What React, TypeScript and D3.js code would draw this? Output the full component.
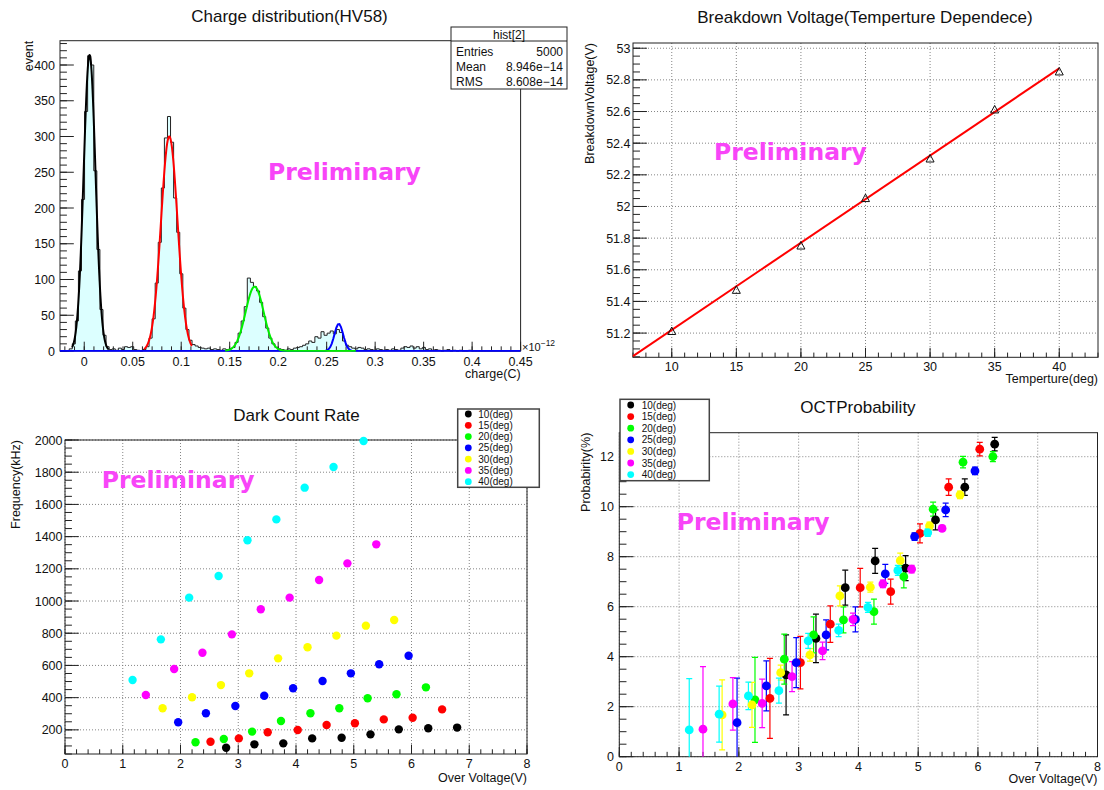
import React from 'react';
import * as d3 from 'd3';

// ================= DATA =================
// --- Charge distribution histogram (150 bins, -0.025 .. 0.45 ×1e-12 C)
const histXMin = -0.025;
const histXMax = 0.45;
const histCounts = [
  0, 0, 0, 3, 10, 42, 112, 212, 335, 413,
  400, 252, 142, 58, 22, 6, 2, 3, 1, 4,
  2, 6, 5, 6, 2, 1, 0, 2, 6, 18,
  45, 95, 152, 228, 298, 328, 292, 214, 166, 108,
  60, 30, 15, 9, 7, 5, 4, 3, 4, 2,
  3, 2, 1, 3, 2, 3, 5, 12, 25, 42,
  62, 102, 96, 90, 84, 68, 48, 32, 18, 10,
  5, 3, 2, 1, 3, 2, 4, 5, 6, 8,
  10, 14, 12, 20, 18, 27, 22, 25, 28, 24,
  30, 26, 14, 8, 6, 4, 3, 5, 4, 2,
  3, 2, 1, 3, 2, 1, 2, 1, 3, 2,
  1, 4, 6, 5, 7, 4, 6, 3, 5, 2,
  3, 1, 2, 1, 0, 1, 2, 0, 1, 0,
  1, 0, 0, 1, 0, 0, 0, 0, 0, 0,
  0, 0, 0, 0, 0, 0, 0, 0, 0, 0,
];
// Gaussian fit results (drawn order: blue, black, red, green)
const fitAmp = [38, 414, 300, 90];
const fitMean = [0.2625, 0.0055, 0.0877, 0.1757];
const fitSigma = [0.0045, 0.0061, 0.0085, 0.0093];
const fitLo = [-0.025, -0.0126, 0.0616, 0.1453];
const fitHi = [0.45, 0.0253, 0.111, 0.28];
const fitColors = ['#0000ff', '#000000', '#ff0000', '#00ee00'];
const statsLabels = ['Entries', 'Mean', 'RMS'];
const statsValues = ['5000', '8.946e\u221214', '8.608e\u221214'];
const tlXTicks = [0, 0.05, 0.1, 0.15, 0.2, 0.25, 0.3, 0.35, 0.4, 0.45];
const tlYTicks = [0, 50, 100, 150, 200, 250, 300, 350, 400];

// --- Breakdown voltage vs temperature
const temps = [10, 15, 20, 25, 30, 35, 40];
const vbd = [51.21, 51.47, 51.75, 52.05, 52.3, 52.61, 52.85];
const vbdFitIntercept = 50.669;
const vbdFitSlope = 0.0551;
const vbdFitRange = [7, 40];
const trXTicks = [10, 15, 20, 25, 30, 35, 40];
const trYTicks = [51.2, 51.4, 51.6, 51.8, 52, 52.2, 52.4, 52.6, 52.8, 53];

// --- Series (temperatures)
const seriesLabels = ['10(deg)', '15(deg)', '20(deg)', '25(deg)', '30(deg)', '35(deg)', '40(deg)'];
const seriesColors = ['#000000', '#ff0000', '#00ff00', '#0000ff', '#ffff00', '#ff00ff', '#00ffff'];

// --- Dark count rate (Over voltage V, kHz)
const dcrX10 = [2.79, 3.28, 3.78, 4.28, 4.79, 5.29, 5.78, 6.29, 6.79];
const dcrY10 = [89, 110, 116, 147, 151, 172, 203, 210, 214];
const dcrX15 = [2.52, 3.01, 3.51, 4.03, 4.53, 5.02, 5.52, 6.02, 6.53];
const dcrY15 = [126, 147, 185, 199, 230, 241, 265, 275, 327];
const dcrX20 = [2.26, 2.75, 3.24, 3.74, 4.25, 4.75, 5.24, 5.74, 6.25];
const dcrY20 = [123, 143, 189, 255, 303, 334, 396, 421, 464];
const dcrX25 = [1.96, 2.44, 2.95, 3.45, 3.95, 4.46, 4.95, 5.44, 5.95];
const dcrY25 = [247, 303, 348, 412, 458, 503, 551, 607, 660];
const dcrX30 = [1.69, 2.2, 2.7, 3.19, 3.69, 4.2, 4.7, 5.21, 5.7];
const dcrY30 = [334, 402, 478, 551, 644, 713, 785, 847, 882];
const dcrX35 = [1.4, 1.89, 2.38, 2.89, 3.39, 3.89, 4.4, 4.89, 5.39];
const dcrY35 = [416, 578, 679, 793, 949, 1021, 1131, 1234, 1352];
const dcrX40 = [1.17, 1.66, 2.15, 2.66, 3.16, 3.66, 4.15, 4.65, 5.17];
const dcrY40 = [510, 762, 1021, 1155, 1377, 1507, 1704, 1832, 1994];
const blYTicks = [200, 400, 600, 800, 1000, 1200, 1400, 1600, 1800, 2000];
const ovTicks = [0, 1, 2, 3, 4, 5, 6, 7, 8];

// --- OCT probability (Over voltage V, %), with errors
const octX10 = [2.79, 3.29, 3.78, 4.28, 4.79, 5.29, 5.78, 6.28];
const octY10 = [3.27, 4.73, 6.76, 7.83, 7.54, 9.47, 10.78, 12.5];
const octE10 = [1.6, 0.97, 0.7, 0.5, 0.5, 0.4, 0.33, 0.27];
const octX15 = [2.52, 3.03, 3.53, 4.03, 4.54, 5.03, 5.51, 6.03];
const octY15 = [2.33, 3.76, 5.3, 6.76, 6.6, 8.93, 10.78, 12.3];
const octE15 = [1.6, 1.05, 0.73, 0.77, 0.5, 0.38, 0.33, 0.27];
const octX20 = [2.27, 2.76, 3.25, 3.75, 4.26, 4.76, 5.25, 5.75, 6.25];
const octY20 = [2.27, 3.9, 4.87, 5.47, 5.8, 7.2, 9.9, 11.78, 12.0];
const octE20 = [1.7, 1.0, 0.72, 0.52, 0.5, 0.45, 0.28, 0.23, 0.2];
const octX25 = [1.97, 2.46, 2.96, 3.46, 3.95, 4.45, 4.94, 5.46, 5.95];
const octY25 = [1.36, 2.83, 3.76, 4.87, 5.49, 7.31, 8.8, 9.87, 11.43];
const octE25 = [1.78, 1.0, 1.0, 0.6, 0.5, 0.38, 0.15, 0.27, 0.15];
const octX30 = [1.72, 2.22, 2.7, 3.19, 3.69, 4.2, 4.7, 5.19, 5.7];
const octY30 = [1.67, 2.07, 3.36, 4.07, 6.43, 6.78, 7.84, 9.23, 10.47];
const octE30 = [1.4, 0.9, 0.3, 0.25, 0.4, 0.2, 0.3, 0.15, 0.15];
const octX35 = [1.4, 1.9, 2.39, 2.89, 3.4, 3.91, 4.41, 4.89, 5.4];
const octY35 = [1.1, 2.11, 2.13, 3.2, 4.23, 5.49, 6.91, 7.5, 9.13];
const octE35 = [2.5, 1.05, 0.97, 0.6, 0.35, 0.25, 0.15, 0.15, 0.12];
const octX40 = [1.17, 1.67, 2.16, 2.67, 3.16, 3.67, 4.16, 4.66, 5.16];
const octY40 = [1.07, 1.7, 2.43, 2.64, 4.63, 5.05, 5.97, 7.45, 8.96];
const octE40 = [2.05, 1.12, 0.55, 0.5, 0.3, 0.25, 0.2, 0.2, 0.15];
const brYTicks = [0, 2, 4, 6, 8, 10, 12];

const dcrXs = [dcrX10, dcrX15, dcrX20, dcrX25, dcrX30, dcrX35, dcrX40];
const dcrYs = [dcrY10, dcrY15, dcrY20, dcrY25, dcrY30, dcrY35, dcrY40];
const octXs = [octX10, octX15, octX20, octX25, octX30, octX35, octX40];
const octYs = [octY10, octY15, octY20, octY25, octY30, octY35, octY40];
const octEs = [octE10, octE15, octE20, octE25, octE30, octE35, octE40];

// ================= DRAWING =================
const FONT = "'Liberation Sans', Arial, Helvetica, sans-serif";
const PFONT = "'DejaVu Sans', Verdana, sans-serif";
const PCOLOR = '#f845f8';
const FRAME = '#222';
const TICKFS = 12.5;

function fmt(v: number) {
  return String(+v.toFixed(3));
}

function minorRange(lo: number, hi: number, step: number) {
  const out: number[] = [];
  const start = Math.ceil(lo / step - 1e-9);
  for (let k = start; k * step <= hi + 1e-9; k++) out.push(+(k * step).toFixed(6));
  return out;
}

type AxesProps = {
  xs: d3.ScaleLinear<number, number>;
  ys: d3.ScaleLinear<number, number>;
  xMajor: number[];
  xMinor: number[];
  yMajor: number[];
  yMinor: number[];
  grid: boolean;
  xLabelY: number;
  yLabelX: number;
};

function Axes({ xs, ys, xMajor, xMinor, yMajor, yMinor, grid, xLabelY, yLabelX }: AxesProps) {
  const [x0, x1] = xs.range();
  const [y1, y0] = ys.range();
  const xt = 0.03 * (y1 - y0);
  const yt = 0.03 * (x1 - x0);
  return (
    <g>
      {grid &&
        xMajor.map((v, i) => (
          <line key={'gx' + i} x1={xs(v)} x2={xs(v)} y1={y0} y2={y1} stroke="#777" strokeWidth={0.9} strokeDasharray="1,2" />
        ))}
      {grid &&
        yMajor.map((v, i) => (
          <line key={'gy' + i} x1={x0} x2={x1} y1={ys(v)} y2={ys(v)} stroke="#777" strokeWidth={0.9} strokeDasharray="1,2" />
        ))}
      {xMinor.map((v, i) => (
        <line key={'xm' + i} x1={xs(v)} x2={xs(v)} y1={y1} y2={y1 - xt / 2} stroke={FRAME} />
      ))}
      {xMajor.map((v, i) => (
        <line key={'xM' + i} x1={xs(v)} x2={xs(v)} y1={y1} y2={y1 - xt} stroke={FRAME} />
      ))}
      {yMinor.map((v, i) => (
        <line key={'ym' + i} x1={x0} x2={x0 + yt / 2} y1={ys(v)} y2={ys(v)} stroke={FRAME} />
      ))}
      {yMajor.map((v, i) => (
        <line key={'yM' + i} x1={x0} x2={x0 + yt} y1={ys(v)} y2={ys(v)} stroke={FRAME} />
      ))}
      <rect x={x0} y={y0} width={x1 - x0} height={y1 - y0} fill="none" stroke={FRAME} strokeWidth={1} />
      {xMajor.map((v, i) => (
        <text key={'xl' + i} x={xs(v)} y={xLabelY} textAnchor="middle" fontSize={TICKFS} fontFamily={FONT} fill="#111">
          {fmt(v)}
        </text>
      ))}
      {yMajor.map((v, i) => (
        <text key={'yl' + i} x={yLabelX} y={ys(v)} dy="0.36em" textAnchor="end" fontSize={TICKFS} fontFamily={FONT} fill="#111">
          {fmt(v)}
        </text>
      ))}
    </g>
  );
}

function Prelim({ x, y }: { x: number; y: number }) {
  return (
    <text x={x} y={y} fontFamily={PFONT} fontWeight="bold" fontSize={23.5} fill={PCOLOR}>
      Preliminary
    </text>
  );
}

function Title({ x, y, text }: { x: number; y: number; text: string }) {
  return (
    <text x={x} y={y} textAnchor="middle" fontFamily={FONT} fontSize={17} fill="#111">
      {text}
    </text>
  );
}

function XTitle({ x, y, text }: { x: number; y: number; text: string }) {
  return (
    <text x={x} y={y} textAnchor="end" fontFamily={FONT} fontSize={12.5} fill="#111">
      {text}
    </text>
  );
}

function YTitle({ x, y, text }: { x: number; y: number; text: string }) {
  return (
    <text transform={`translate(${x},${y}) rotate(-90)`} textAnchor="end" fontFamily={FONT} fontSize={12.5} fill="#111">
      {text}
    </text>
  );
}

function Legend({ x, y, w, h, mx, tx, row0, rowStep }: { x: number; y: number; w: number; h: number; mx: number; tx: number; row0: number; rowStep: number }) {
  return (
    <g>
      <rect x={x} y={y} width={w} height={h} fill="#fff" stroke="#444" strokeWidth={1.5} />
      {seriesLabels.map((lab, i) => (
        <g key={lab}>
          <circle cx={mx} cy={row0 + i * rowStep} r={3.4} fill={seriesColors[i]} />
          <text x={tx} y={row0 + i * rowStep} dy="0.36em" fontFamily={FONT} fontSize={10} fill="#111">
            {lab}
          </text>
        </g>
      ))}
    </g>
  );
}

export default function App() {
  // ---------- Top-left: histogram ----------
  const tlX = d3.scaleLinear().domain([histXMin, histXMax]).range([60, 520.6]);
  const tlY = d3.scaleLinear().domain([0, 434]).range([351, 40.7]);
  const bw = (histXMax - histXMin) / histCounts.length;
  let histPath = `M${tlX(histXMin)},${tlY(0)}`;
  histCounts.forEach((c, i) => {
    const a = histXMin + i * bw;
    const b = a + bw;
    histPath += `L${tlX(a)},${tlY(c)}L${tlX(b)},${tlY(c)}`;
  });
  histPath += `L${tlX(histXMax)},${tlY(0)}`;
  const fitLine = d3
    .line<number[]>()
    .x((d) => tlX(d[0]))
    .y((d) => tlY(d[1]));
  const fitPaths = fitAmp.map((A, k) => {
    const n = 300;
    const pts: number[][] = [];
    for (let j = 0; j <= n; j++) {
      const q = fitLo[k] + ((fitHi[k] - fitLo[k]) * j) / n;
      pts.push([q, A * Math.exp(-0.5 * ((q - fitMean[k]) / fitSigma[k]) ** 2)]);
    }
    return fitLine(pts) as string;
  });

  // ---------- Top-right: breakdown voltage ----------
  const trX = d3.scaleLinear().domain([7, 43]).range([633, 1098]);
  const trY = d3.scaleLinear().domain([51.047, 53.033]).range([357.3, 43]);

  // ---------- Bottom-left: DCR ----------
  const blX = d3.scaleLinear().domain([0, 8]).range([65, 527]);
  const blY = d3.scaleLinear().domain([50, 2000]).range([754, 440]);

  // ---------- Bottom-right: OCT ----------
  const brX = d3.scaleLinear().domain([0, 8]).range([619.3, 1097.5]);
  const brY = d3.scaleLinear().domain([0, 12.96]).range([756.7, 432.7]);

  const tri = (cx: number, cy: number) => `M${cx - 4},${cy + 3}L${cx + 4},${cy + 3}L${cx},${cy - 4.5}Z`;

  return (
    <svg width={1104} height={790} style={{ position: 'absolute', left: 0, top: 0, background: '#fff' }}>
      <defs>
        <clipPath id="clipBR">
          <rect x={619.3} y={432.7} width={1097.5 - 619.3} height={756.7 - 432.7} />
        </clipPath>
        <clipPath id="clipTL">
          <rect x={60} y={40.7} width={460.6} height={311} />
        </clipPath>
      </defs>

      {/* ===== Top-left ===== */}
      <Title x={289.5} y={21.5} text="Charge distribution(HV58)" />
      <path d={histPath} fill="#dcffff" stroke="none" />
      <Axes
        xs={tlX}
        ys={tlY}
        xMajor={tlXTicks}
        xMinor={minorRange(histXMin, histXMax, 0.01)}
        yMajor={tlYTicks}
        yMinor={minorRange(0, 434, 10)}
        grid={false}
        xLabelY={365.5}
        yLabelX={55}
      />
      <path d={histPath} fill="none" stroke="#222" strokeWidth={1} />
      <g clipPath="url(#clipTL)">
        {fitPaths.map((d, k) => (
          <path key={k} d={d} fill="none" stroke={fitColors[k]} strokeWidth={2} />
        ))}
      </g>
      <text x={522} y={351} fontFamily={FONT} fontSize={11} fill="#111">
        ×10<tspan dy={-5} fontSize={8.5}>−12</tspan>
      </text>
      <XTitle x={520.6} y={378} text="charge(C)" />
      <YTitle x={33} y={40.7} text="event" />
      <Prelim x={268} y={180} />
      <g>
        <rect x={451} y={27} width={116} height={62} fill="#fff" stroke="#222" />
        <line x1={451} x2={567} y1={41} y2={41} stroke="#222" />
        <text x={509} y={38.5} textAnchor="middle" fontFamily={FONT} fontSize={12} fill="#111">
          hist[2]
        </text>
        {statsLabels.map((l, i) => (
          <g key={l}>
            <text x={456} y={55.5 + i * 15} fontFamily={FONT} fontSize={12} fill="#111">
              {l}
            </text>
            <text x={563} y={55.5 + i * 15} textAnchor="end" fontFamily={FONT} fontSize={12} fill="#111">
              {statsValues[i]}
            </text>
          </g>
        ))}
      </g>

      {/* ===== Top-right ===== */}
      <Title x={865} y={23.3} text="Breakdown Voltage(Temperture Dependece)" />
      <Axes
        xs={trX}
        ys={trY}
        xMajor={trXTicks}
        xMinor={minorRange(7, 43, 1)}
        yMajor={trYTicks}
        yMinor={minorRange(51.047, 53.033, 0.05)}
        grid={true}
        xLabelY={371}
        yLabelX={630.5}
      />
      <line
        x1={trX(vbdFitRange[0])}
        y1={trY(vbdFitIntercept + vbdFitSlope * vbdFitRange[0])}
        x2={trX(vbdFitRange[1])}
        y2={trY(vbdFitIntercept + vbdFitSlope * vbdFitRange[1])}
        stroke="#ff0000"
        strokeWidth={2}
      />
      {temps.map((t, i) => (
        <path key={t} d={tri(trX(t), trY(vbd[i]))} fill="none" stroke="#111" strokeWidth={1} />
      ))}
      <Prelim x={714} y={159.5} />
      <XTitle x={1098} y={383} text="Temperture(deg)" />
      <YTitle x={593.5} y={43} text="BreakdownVoltage(V)" />

      {/* ===== Bottom-left ===== */}
      <Title x={296.5} y={420.5} text="Dark Count Rate" />
      <Axes
        xs={blX}
        ys={blY}
        xMajor={ovTicks}
        xMinor={minorRange(0, 8, 0.2)}
        yMajor={blYTicks}
        yMinor={minorRange(50, 2000, 50)}
        grid={true}
        xLabelY={767.5}
        yLabelX={62.5}
      />
      {dcrXs.map((xsArr, s) =>
        xsArr.map((xv, i) => <circle key={s + '-' + i} cx={blX(xv)} cy={blY(dcrYs[s][i])} r={4.2} fill={seriesColors[s]} />)
      )}
      <Prelim x={101.7} y={488} />
      <XTitle x={527} y={782} text="Over Voltage(V)" />
      <YTitle x={20} y={440} text="Frequency(kHz)" />
      <Legend x={457.7} y={409} w={81.6} h={78.3} mx={468.3} tx={478.3} row0={414} rowStep={11.28} />

      {/* ===== Bottom-right ===== */}
      <Title x={858} y={412.5} text="OCTProbability" />
      <Axes
        xs={brX}
        ys={brY}
        xMajor={ovTicks}
        xMinor={minorRange(0, 8, 0.2)}
        yMajor={brYTicks}
        yMinor={minorRange(0, 12.96, 0.5)}
        grid={true}
        xLabelY={770.5}
        yLabelX={614}
      />
      <g clipPath="url(#clipBR)">
        {octXs.map((xsArr, s) =>
          xsArr.map((xv, i) => {
            const cx = brX(xv);
            const yt = brY(octYs[s][i] + octEs[s][i]);
            const yb = brY(octYs[s][i] - octEs[s][i]);
            return (
              <g key={s + '-' + i} stroke={seriesColors[s]} strokeWidth={1.2}>
                <line x1={cx} x2={cx} y1={yt} y2={yb} />
                <line x1={cx - 3} x2={cx + 3} y1={yt} y2={yt} />
                <line x1={cx - 3} x2={cx + 3} y1={yb} y2={yb} />
              </g>
            );
          })
        )}
      </g>
      {octXs.map((xsArr, s) =>
        xsArr.map((xv, i) => <circle key={'p' + s + '-' + i} cx={brX(xv)} cy={brY(octYs[s][i])} r={4.4} fill={seriesColors[s]} />)
      )}
      <Prelim x={676.7} y={530} />
      <XTitle x={1097.5} y={783} text="Over Voltage(V)" />
      <YTitle x={590} y={432.7} text="Probabirity(%)" />
      <Legend x={620} y={399.3} w={89.3} h={81.4} mx={630.7} tx={641.7} row0={405} rowStep={11.6} />
    </svg>
  );
}
